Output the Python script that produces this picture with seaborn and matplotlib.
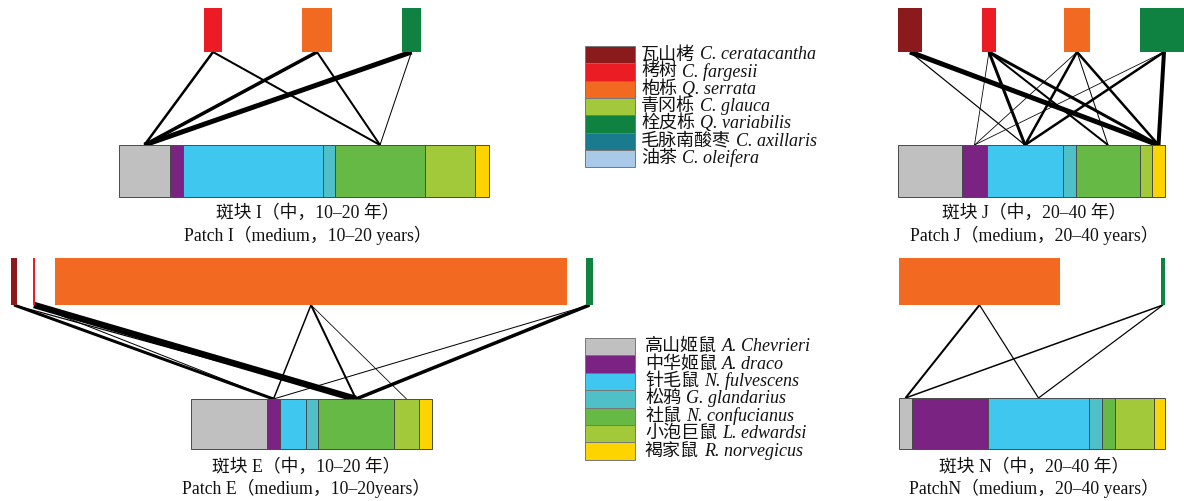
import matplotlib
matplotlib.use("Agg")
import matplotlib.pyplot as plt
import seaborn as sns
import pandas as pd

sns.set_theme(style="white")
plt.rcParams['font.family'] = ['Liberation Serif', 'Noto Sans CJK SC', 'DejaVu Sans']

# ---------------- species ----------------
plant_cn = ["瓦山栲", "栲树", "枹栎", "青冈栎", "栓皮栎", "毛脉南酸枣", "油茶"]
plant_la = ["C. ceratacantha", "C. fargesii", "Q. serrata", "C. glauca",
            "Q. variabilis", "C. axillaris", "C. oleifera"]
plant_colors = ["#8a1a1c", "#ec1c24", "#f26a22", "#a2c83b", "#0f8140", "#1a7b8e", "#a9c9e9"]

animal_cn = ["高山姬鼠", "中华姬鼠", "针毛鼠", "松鸦", "社鼠", "小泡巨鼠", "褐家鼠"]
animal_la = ["A. Chevrieri", "A. draco", "N. fulvescens", "G. glandarius",
             "N. confucianus", "L. edwardsi", "R. norvegicus"]
animal_colors = ["#c0c0c0", "#7b2383", "#3fc7ef", "#50c0c8", "#67b945", "#a2c93a", "#fdd300"]

# ---------------- panel data ----------------
# Patch I
I_plants = [1, 2, 4]
I_plant_w = [18, 30, 19]
I_animal_w = [51, 13, 140, 12, 90, 50, 14]
I_link_plant = [1, 1, 2, 2, 4, 4]
I_link_animal = [0, 4, 0, 4, 0, 4]
I_link_w = [2.5, 2.0, 3.5, 2.0, 5.0, 1.0]

# Patch J
J_plants = [0, 1, 2, 4]
J_plant_w = [24, 14, 26, 48]
J_animal_w = [64, 25, 76, 13, 64, 12, 13]
J_link_plant = [0, 0, 1, 1, 1, 1, 2, 2, 2, 2, 4, 4, 4]
J_link_animal = [2, 6, 1, 2, 4, 6, 1, 2, 4, 6, 1, 2, 6]
J_link_w = [1.2, 5.0, 0.8, 3.0, 2.0, 3.0, 0.8, 2.5, 1.0, 2.5, 0.8, 2.5, 4.0]

# Patch E
E_plants = [0, 1, 2, 4]
E_plant_w = [6, 2, 512, 7]
E_animal_w = [76, 13, 26, 12, 76, 25, 13]
E_link_plant = [0, 0, 1, 1, 2, 2, 2, 4, 4]
E_link_animal = [1, 4, 4, 1, 1, 4, 5, 4, 1]
E_link_w = [3.0, 1.2, 6.5, 1.0, 1.5, 2.0, 0.8, 3.5, 1.0]

# Patch N
N_plants = [2, 4]
N_plant_w = [161, 4]
N_animal_w = [13, 76, 101, 13, 13, 39, 11]
N_link_plant = [2, 2, 4, 4]
N_link_animal = [0, 2, 0, 2]
N_link_w = [2.0, 1.2, 1.5, 1.2]

labels_cn = ["斑块 I（中，10–20 年）", "斑块 J（中，20–40 年）",
             "斑块 E（中，10–20 年）", "斑块 N（中，20–40 年）"]
labels_en = ["Patch I（medium，10–20 years）", "Patch J（medium，20–40 years）",
             "Patch E（medium，10–20years）", "PatchN（medium，20–40 years）"]

# ---------------- layout (pixel coordinates) ----------------
layout = [
    dict(top_x0=204, top_gaps=[80, 70], top_y=(8, 52), bot_x0=119, bot_y=(145, 197), lab_x=308, lab_y=(213, 235)),
    dict(top_x0=898, top_gaps=[60, 68, 50], top_y=(8, 52), bot_x0=898, bot_y=(145, 197), lab_x=1034, lab_y=(213, 235)),
    dict(top_x0=11, top_gaps=[16, 20, 19], top_y=(258, 305), bot_x0=191, bot_y=(399, 449), lab_x=306, lab_y=(467, 488)),
    dict(top_x0=899, top_gaps=[101], top_y=(258, 305), bot_x0=899, bot_y=(398, 449), lab_x=1034, lab_y=(467, 488)),
]
panels = [
    (I_plants, I_plant_w, I_animal_w, I_link_plant, I_link_animal, I_link_w),
    (J_plants, J_plant_w, J_animal_w, J_link_plant, J_link_animal, J_link_w),
    (E_plants, E_plant_w, E_animal_w, E_link_plant, E_link_animal, E_link_w),
    (N_plants, N_plant_w, N_animal_w, N_link_plant, N_link_animal, N_link_w),
]

fig = plt.figure(figsize=(11.84, 5.01), dpi=100)
ax = fig.add_axes([0, 0, 1, 1])
ax.set_xlim(0, 1184)
ax.set_ylim(501, 0)
ax.axis("off")

FS = 12.8
LFS = 13.0
TC = "#111111"

for k, ((pl, pw, aw, lp, la, lw), L) in enumerate(zip(panels, layout)):
    # top (plant) boxes
    top = pd.DataFrame({"sp": pl, "w": pw})
    gaps = [0] + L["top_gaps"]
    lefts = []
    x = L["top_x0"]
    for i, w in enumerate(pw):
        x += gaps[i]
        lefts.append(x)
        x += w
    top["left"] = lefts
    top["cx"] = top["left"] + top["w"] / 2
    # bottom (animal) bar
    bot = pd.DataFrame({"sp": range(len(aw)), "w": aw})
    bot["left"] = L["bot_x0"] + bot["w"].cumsum() - bot["w"]
    bot["cx"] = bot["left"] + bot["w"] / 2

    ty0, ty1 = L["top_y"]
    by0, by1 = L["bot_y"]
    # links
    tcx = dict(zip(top["sp"], top["cx"]))
    bcx = dict(zip(bot["sp"], bot["cx"]))
    for p, a, w in zip(lp, la, lw):
        ax.plot([tcx[p], bcx[a]], [ty1, by0], color="black", lw=w * 0.72,
                solid_capstyle="butt", zorder=1)
    # boxes
    ax.barh([(ty0 + ty1) / 2] * len(top), top["w"], left=top["left"], height=ty1 - ty0,
            color=[plant_colors[s] for s in top["sp"]], edgecolor="none", zorder=2)
    ax.barh([(by0 + by1) / 2] * len(bot), bot["w"], left=bot["left"], height=by1 - by0,
            color=animal_colors, edgecolor="#4a4a4a", linewidth=0.7, zorder=2)
    ax.text(L["lab_x"], L["lab_y"][0], labels_cn[k], ha="center", va="center", fontsize=FS, color=TC)
    ax.text(L["lab_x"], L["lab_y"][1], labels_en[k], ha="center", va="center", fontsize=FS, color=TC)

# ---------------- legends ----------------
fig.canvas.draw()
renderer = fig.canvas.get_renderer()
inv = ax.transData.inverted()


def legend(y0, row_h, colors, cn, la, tx):
    for i, (c, a, b) in enumerate(zip(colors, cn, la)):
        y = y0 + i * row_h
        ax.barh(y + row_h / 2, 50, left=585, height=row_h, color=c, edgecolor="#777777",
                linewidth=0.7, zorder=2)
        t = ax.text(tx, y + row_h / 2, a, ha="left", va="center", fontsize=LFS, color=TC)
        bb = t.get_window_extent(renderer)
        xr = inv.transform((bb.x1, bb.y0))[0]
        ax.text(xr + 5, y + row_h / 2, b, ha="left", va="center", fontsize=LFS,
                style="italic", color=TC)


legend(46, 17.3, plant_colors, plant_cn, plant_la, 641)
legend(338, 17.4, animal_colors, animal_cn, animal_la, 645)

fig.savefig("out.png", dpi=100)
